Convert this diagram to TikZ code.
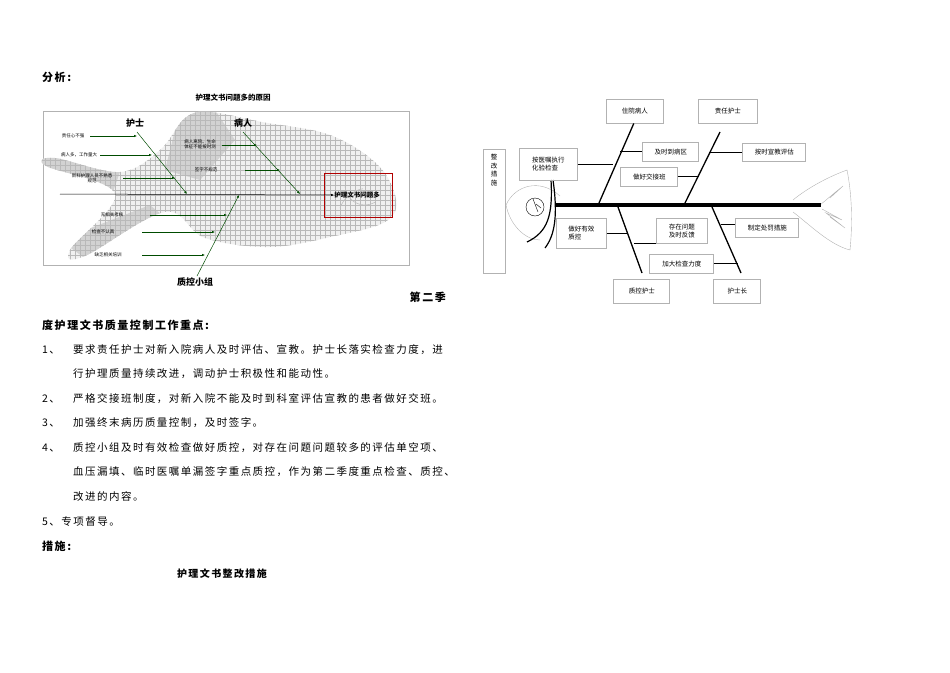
\documentclass[tikz,border=0pt]{standalone}
\usepackage{fontspec}
\setmainfont{Noto Sans CJK SC}
\newfontfamily\cjk[LetterSpace=14]{Noto Sans CJK SC}
\usetikzlibrary{arrows.meta}
\begin{document}
\begin{tikzpicture}[x=1pt,y=-1pt,
  txt/.style={anchor=west,inner sep=0pt,font=\cjk\fontsize{10.5}{12}\selectfont},
  hd/.style={anchor=west,inner sep=0pt,font=\cjk\bfseries\fontsize{11}{12}\selectfont},
  tiny/.style={inner sep=0pt,font=\fontsize{4.5}{5}\selectfont,align=center},
  fb/.style={-{Latex[length=3pt,width=2.5pt]},draw=black!70!green,line width=0.5pt},
  rb/.style={draw=gray!60,line width=0.5pt,inner sep=2pt,font=\fontsize{6.5}{8}\selectfont,anchor=north west,align=left},
  bone/.style={line width=1.3pt}]
\useasboundingbox (0,0) rectangle (950,672);
% ---------- left fish ----------
\node[inner sep=0pt,font=\bfseries\fontsize{7.5}{9}\selectfont] (t1) at (233,98) {护理文书问题多的原因};
\draw[gray!60] (43,111) rectangle (409,265);
\def\fishpath{plot[smooth cycle,tension=0.6] coordinates {(396,200) (378,165) (330,135) (262,122) (210,112) (185,118) (160,150) (120,172) (55,158) (46,166) (115,194) (70,250) (85,256) (165,212) (205,238) (270,247) (335,236) (385,222)}}
\fill[gray!12] \fishpath;
\begin{scope}
\clip \fishpath;
\fill[gray!35] (180,110) -- (215,110) -- (235,140) -- (200,180) -- (165,170) -- cycle;
\fill[gray!35] (40,150) -- (120,172) -- (110,200) -- (40,175) -- cycle;
\fill[gray!35] (60,240) -- (150,205) -- (180,230) -- (90,262) -- cycle;
\foreach \i in {40,45,...,410} {\draw[gray!55,line width=0.35pt] (\i,100) -- (\i,270);}
\foreach \j in {100,105,...,270} {\draw[gray!55,line width=0.35pt] (40,\j) -- (410,\j);}
\end{scope}
\draw[gray!50,line width=0.6pt] (345,185) arc[start angle=180,end angle=60,radius=20];
\draw[gray!50,line width=0.6pt] (340,208) arc[start angle=200,end angle=260,radius=30];
\node[inner sep=0pt,font=\bfseries\fontsize{9}{10}\selectfont] (hs) at (135,123) {护士};
\node[inner sep=0pt,font=\bfseries\fontsize{9}{10}\selectfont] (br) at (243,123) {病人};
\node[inner sep=0pt,font=\bfseries\fontsize{9}{10}\selectfont] (zk) at (195,282) {质控小组};
\node[draw=red!70!black,line width=0.8pt,minimum width=68pt,minimum height=44pt] (eff) at (358,195) {};
\node[inner sep=0pt,font=\bfseries\fontsize{6.5}{8}\selectfont] (efft) at (357,195) {护理文书问题多};
\coordinate (sp0) at (60,194);
\draw[-{Latex[length=3pt,width=2.5pt]},line width=0.5pt] (sp0) -- (efft.west);
\coordinate (b1a) at (137,132); \coordinate (b1b) at (187,194);
\coordinate (b2a) at (243,132); \coordinate (b2b) at (300,194);
\coordinate (b3a) at (197,276); \coordinate (b3b) at (239,195);
\draw[fb] (b1a) -- (b1b);
\draw[fb] (b2a) -- (b2b);
\draw[fb] (b3a) -- (b3b);
\node[tiny] (c1) at (73,136) {责任心不强};
\node[tiny] (c2) at (79,155) {病人多，工作量大};
\node[tiny] (c3) at (92,178) {新科护理人员不熟悉\\规范};
\node[tiny] (c4) at (200,144) {病人离院、生命\\体征不能按时测};
\node[tiny] (c5) at (206,170) {签字不规范};
\node[tiny] (c6) at (112,215) {无相关考核};
\node[tiny] (c7) at (103,232) {检查不认真};
\node[tiny] (c8) at (108,255) {缺乏相关培训};
\coordinate (e1) at (137,136); \coordinate (e2) at (152,155); \coordinate (e3) at (175,178);
\coordinate (e4) at (257,145); \coordinate (e5) at (280,170); \coordinate (e6) at (227,215);
\coordinate (e7) at (215,232); \coordinate (e8) at (205,255);
\draw[fb] (90,136) -- (e1);
\draw[fb] (100,155) -- (e2);
\draw[fb] (123,178) -- (e3);
\draw[fb] (222,145) -- (e4);
\draw[fb] (245,170) -- (e5);
\draw[fb] (150,215) -- (e6);
\draw[fb] (142,232) -- (e7);
\draw[fb] (142,255) -- (e8);
% ---------- text ----------
\node[hd] (fx) at (42,77) {分析:};
\node[anchor=east,inner sep=0pt,font=\cjk\bfseries\fontsize{11}{12}\selectfont] (dej) at (446,297) {第二季};
\node[hd] (l0) at (42,325) {度护理文书质量控制工作重点:};
\node[txt] (n1) at (42,350) {1、}; \node[txt] (l1) at (73,350) {要求责任护士对新入院病人及时评估、宣教。护士长落实检查力度，进};
\node[txt] (l1b) at (73,374) {行护理质量持续改进，调动护士积极性和能动性。};
\node[txt] (n2) at (42,399) {2、}; \node[txt] (l2) at (73,399) {严格交接班制度，对新入院不能及时到科室评估宣教的患者做好交班。};
\node[txt] (n3) at (42,423) {3、}; \node[txt] (l3) at (73,423) {加强终末病历质量控制，及时签字。};
\node[txt] (n4) at (42,448) {4、}; \node[txt] (l4) at (73,448) {质控小组及时有效检查做好质控，对存在问题问题较多的评估单空项、};
\node[txt] (l4b) at (73,472) {血压漏填、临时医嘱单漏签字重点质控，作为第二季度重点检查、质控、};
\node[txt] (l4c) at (73,496) {改进的内容。};
\node[txt] (l5) at (42,521) {5、专项督导。};
\node[hd] (cs) at (42,546) {措施:};
\node[inner sep=0pt,font=\cjk\bfseries\fontsize{10}{12}\selectfont] (cst) at (222,574) {护理文书整改措施};
% ---------- right fishbone ----------
\node[draw=gray!60,minimum width=22pt,minimum height=124pt,anchor=north west] (zg) at (483,149) {};
\node[anchor=north,inner sep=0pt,font=\fontsize{6.5}{8.5}\selectfont,align=center] (zgt) at (494,154) {整\\改\\措\\施};
\draw[gray!60,line width=0.4pt] (560,196) .. controls (540,178) and (515,185) .. (506,205) .. controls (510,225) and (525,240) .. (540,240);
\draw (535,207) circle[radius=9];
\draw[line width=0.4pt] (533,199) -- (538,212) (536,204) -- (541,208);
\draw[line width=1.2pt] (551,180) .. controls (553,215) and (548,232) .. (527,242);
\draw[line width=1.2pt] (553,180) .. controls (558,215) and (555,235) .. (545,248);
\draw[gray!60,line width=0.4pt] (793,200) .. controls (805,190) and (825,178) .. (847,170) .. controls (853,200) and (852,230) .. (850,250) .. controls (830,245) and (810,225) .. (793,212);
\draw[gray!60,line width=0.4pt] (820,205) -- (838,190) -- (826,200) -- (843,186) -- (830,198) (822,209) -- (842,220) -- (826,213) -- (845,228) -- (830,217);
\coordinate (s0) at (555,205); \coordinate (s1) at (821,205);
\draw[line width=4pt] (s0) -- (s1);
\node[rb,minimum width=57pt,minimum height=24pt] (a1) at (606,99) {住院病人};
\node[rb,minimum width=59pt,minimum height=24pt] (a2) at (698,99) {责任护士};
\node[rb,minimum width=56pt,minimum height=19pt] (a3) at (642,142) {\ 及时到病区};
\node[rb,minimum width=63pt,minimum height=18pt] (a4) at (742,143) {\ 按时宣教评估};
\node[rb,minimum width=58pt,minimum height=32pt] (a5) at (519,148) {按医嘱执行\\化验检查};
\node[rb,minimum width=57pt,minimum height=19pt] (a6) at (620,167) {\ 做好交接班};
\node[rb,minimum width=50pt,minimum height=30pt] (a7) at (556,218) {做好有效\\质控};
\node[rb,minimum width=51pt,minimum height=25pt] (a8) at (656,218) {存在问题\\及时反馈};
\node[rb,minimum width=63pt,minimum height=19pt] (a9) at (735,218) {\ 制定处罚措施};
\node[rb,minimum width=64pt,minimum height=19pt] (a10) at (649,254) {\ 加大检查力度};
\node[rb,minimum width=56pt,minimum height=24pt] (a11) at (613,279) {\ 质控护士};
\node[rb,minimum width=47pt,minimum height=24pt] (a12) at (713,279) {\ 护士长};
\draw[bone] (a1.south) ++(-1,0) coordinate (u1) -- (599,203);
\draw[bone] (720,132) coordinate (u2) -- (685,203);
\draw[bone] (618,207) -- (642,273) coordinate (d1);
\draw[bone] (712,207) -- (741,273) coordinate (d2);
\draw[bone] (a3.west) -- ++(-22,0);
\draw[bone] (a5.east) -- ++(35,0);
\draw[bone] (a6.east) -- ++(21,0);
\draw[bone] (a4.west) -- ++(-33,0);
\draw[bone] (a7.east) -- ++(21,0);
\draw[bone] (a8.south west) ++(0,0) -- ++(-22,0);
\draw[bone] (a9.west) ++(0,-3) -- ++(-14,0);
\draw[bone] (a10.east) -- ++(24,0);
\end{tikzpicture}
\end{document}
